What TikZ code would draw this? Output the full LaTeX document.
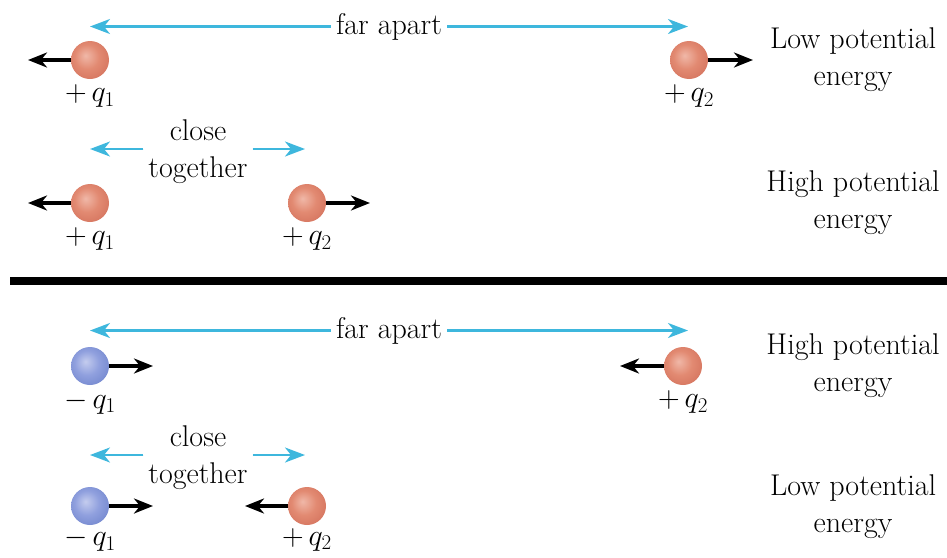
\RequirePackage{fix-cm}
\documentclass[tikz,border=0pt]{standalone}
\usepackage{amsmath}
\usepackage{tikz}
\usetikzlibrary{arrows.meta,positioning}

\definecolor{redhi}{RGB}{240,184,168}
\definecolor{redsph}{RGB}{226,138,114}
\definecolor{redrim}{RGB}{214,118,96}
\definecolor{bluehi}{RGB}{196,204,238}
\definecolor{bluesph}{RGB}{144,160,222}
\definecolor{bluerim}{RGB}{118,138,208}
\definecolor{gapcyan}{RGB}{62,183,221}

\pgfdeclareradialshading{redball}{\pgfpoint{-6bp}{6bp}}{color(0bp)=(redhi); color(16bp)=(redsph); color(30bp)=(redrim); color(50bp)=(redrim)}
\pgfdeclareradialshading{blueball}{\pgfpoint{-6bp}{6bp}}{color(0bp)=(bluehi); color(16bp)=(bluesph); color(30bp)=(bluerim); color(50bp)=(bluerim)}

\begin{document}
\begin{tikzpicture}[
  x=1pt, y=-1pt,
  ball/.style={circle, minimum size=38pt, inner sep=0pt},
  posq/.style={ball, shading=redball},
  negq/.style={ball, shading=blueball},
  txt/.style={font=\fontsize{30}{37}\selectfont, align=center, inner sep=0pt},
  lbl/.style={txt, below=5.5pt of #1},
  gaptxt/.style={txt, inner sep=5pt},
  push/.style={-{Stealth[length=19pt, width=15pt, inset=6pt]}, line width=3.5pt},
  gap/.style={-{Stealth[length=20pt, width=15pt, inset=6pt]}, line width=2.5pt, draw=gapcyan, fill=gapcyan},
]
  \useasboundingbox (0,0) rectangle (947,557);

  % Repelling charges, far apart
  \node[gaptxt] (far1) at (389,26.5) {far apart};
  \coordinate (f1l) at (90,26.5);
  \coordinate (f1r) at (688,26.5);
  \draw[gap] (far1) -- (f1l);
  \draw[gap] (far1) -- (f1r);
  \node[posq] (a1) at (90,60) {};
  \node[posq] (a2) at (689,60) {};
  \coordinate (a1t) at (28,60);
  \coordinate (a2t) at (753,60);
  \draw[push] (a1) -- (a1t);
  \draw[push] (a2) -- (a2t);
  \node[lbl=a1] (a1l) {$+\,q_1$};
  \node[lbl=a2] (a2l) {$+\,q_2$};
  \node[txt] (e1) at (853,60) {Low potential\\energy};

  % Repelling charges, close together
  \node[gaptxt] (ct1) at (198,152) {close\\together};
  \coordinate (c1l) at (90,149);
  \coordinate (c1r) at (305,149);
  \draw[gap] (ct1.west |- c1l) -- (c1l);
  \draw[gap] (ct1.east |- c1r) -- (c1r);
  \node[posq] (b1) at (90,203) {};
  \node[posq] (b2) at (307,203) {};
  \coordinate (b1t) at (28,203);
  \coordinate (b2t) at (370,203);
  \draw[push] (b1) -- (b1t);
  \draw[push] (b2) -- (b2t);
  \node[lbl=b1] (b1l) {$+\,q_1$};
  \node[lbl=b2] (b2l) {$+\,q_2$};
  \node[txt] (e2) at (853,203) {High potential\\energy};

  % Divider
  \draw[line width=8pt] (10,281) -- (947,281);

  % Attracting charges, far apart
  \node[gaptxt] (far2) at (389,330.5) {far apart};
  \coordinate (f2l) at (90,330.5);
  \coordinate (f2r) at (688,330.5);
  \draw[gap] (far2) -- (f2l);
  \draw[gap] (far2) -- (f2r);
  \node[negq] (c1) at (90,366) {};
  \node[posq] (c2) at (683,366) {};
  \coordinate (c1t) at (153,366);
  \coordinate (c2t) at (620,366);
  \draw[push] (c1) -- (c1t);
  \draw[push] (c2) -- (c2t);
  \node[lbl=c1] (c1q) {$-\,q_1$};
  \node[lbl=c2] (c2q) {$+\,q_2$};
  \node[txt] (e3) at (853,366) {High potential\\energy};

  % Attracting charges, close together
  \node[gaptxt] (ct2) at (198,458) {close\\together};
  \coordinate (c2l) at (90,455);
  \coordinate (c2r) at (305,455);
  \draw[gap] (ct2.west |- c2l) -- (c2l);
  \draw[gap] (ct2.east |- c2r) -- (c2r);
  \node[negq] (d1) at (90,506) {};
  \node[posq] (d2) at (307,506) {};
  \coordinate (d1t) at (153,506);
  \coordinate (d2t) at (245,506);
  \draw[push] (d1) -- (d1t);
  \draw[push] (d2) -- (d2t);
  \node[txt, below=3pt of d1] (d1q) {$-\,q_1$};
  \node[txt, below=3pt of d2] (d2q) {$+\,q_2$};
  \node[txt] (e4) at (853,507) {Low potential\\energy};
\end{tikzpicture}
\end{document}
